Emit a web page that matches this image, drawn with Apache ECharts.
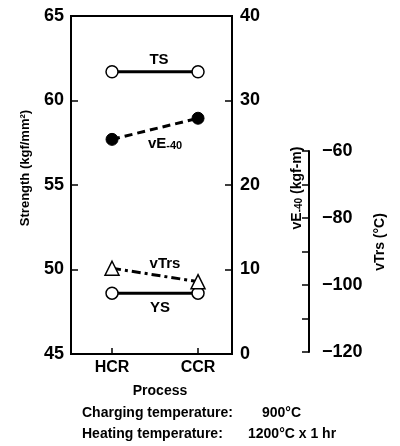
<!DOCTYPE html>
<html>
<head>
<meta charset="utf-8">
<script src="https://cdn.jsdelivr.net/npm/echarts@6/dist/echarts.min.js"></script>
<style>html,body{margin:0;padding:0;background:#fff;}#c{width:400px;height:446px;}</style>
</head>
<body>
<div id="c"></div>
<script>
const processes = ['HCR', 'CCR'];
const tsValues = [61.7, 61.7];
const ysValues = [48.6, 48.6];
const vE40Values = [25.4, 27.9];
const vTrsValues = [-95, -99];
const strengthRange = [45, 65];
const vE40Range = [0, 40];
const vTrsRange = [-120, -60];

const FONT = '"Liberation Sans", Arial, sans-serif';
const chart = echarts.init(document.getElementById('c'), null, {renderer: 'canvas'});
const pts = vals => processes.map((p, i) => [i, vals[i]]);
const xMin = -0.477, xMax = 1.395;
const black = '#000';

const option = {
  animation: false,
  backgroundColor: '#fff',
  grid: [
    {left: 71, right: 168, top: 16, bottom: 92, show: true, borderColor: black, borderWidth: 2, backgroundColor: 'transparent'},
    {left: 71, right: 168, top: 151, bottom: 94}
  ],
  xAxis: [
    {
      gridIndex: 0, type: 'value', min: xMin, max: xMax,
      axisLine: {show: true, onZero: false, lineStyle: {color: black, width: 2}},
      axisTick: {show: true, inside: true, length: 6, customValues: [0, 1], lineStyle: {color: black, width: 1.5}},
      axisLabel: {customValues: [0, 1], formatter: v => processes[Math.round(v)] || '', color: black, fontFamily: FONT, fontWeight: 'bold', fontSize: 16, margin: 6},
      splitLine: {show: false}
    },
    {gridIndex: 1, type: 'value', min: xMin, max: xMax, show: false}
  ],
  yAxis: [
    {
      gridIndex: 0, type: 'value', position: 'left', min: strengthRange[0], max: strengthRange[1], interval: 5,
      axisLine: {show: true, onZero: false, lineStyle: {color: black, width: 2}},
      axisTick: {show: true, inside: true, length: 7, lineStyle: {color: black, width: 1.5}},
      axisLabel: {color: black, fontFamily: FONT, fontWeight: 'bold', fontSize: 18, margin: 7},
      splitLine: {show: false}
    },
    {
      gridIndex: 0, type: 'value', position: 'right', min: vE40Range[0], max: vE40Range[1], interval: 10,
      axisLine: {show: true, onZero: false, lineStyle: {color: black, width: 2}},
      axisTick: {show: true, inside: true, length: 7, lineStyle: {color: black, width: 1.5}},
      axisLabel: {color: black, fontFamily: FONT, fontWeight: 'bold', fontSize: 18, margin: 8},
      splitLine: {show: false}
    },
    {
      gridIndex: 1, type: 'value', position: 'right', offset: 77, min: vTrsRange[0], max: vTrsRange[1], interval: 20,
      axisLine: {show: true, onZero: false, lineStyle: {color: black, width: 2}},
      axisTick: {show: true, inside: true, length: 7, lineStyle: {color: black, width: 1.5}},
      minorTick: {show: true, splitNumber: 2, length: 7, lineStyle: {color: black, width: 1.5}},
      axisLabel: {color: black, fontFamily: FONT, fontWeight: 'bold', fontSize: 18, margin: 13,
        formatter: v => (v < 0 ? '\u2212' : '') + Math.abs(v)},
      splitLine: {show: false}
    }
  ],
  series: [
    {
      name: 'TS', type: 'line', xAxisIndex: 0, yAxisIndex: 0, data: pts(tsValues),
      symbol: 'circle', symbolSize: 12,
      lineStyle: {color: black, width: 3},
      itemStyle: {color: '#fff', borderColor: black, borderWidth: 1.5}
    },
    {
      name: 'vE-40', type: 'line', xAxisIndex: 0, yAxisIndex: 1, data: pts(vE40Values),
      symbol: 'circle', symbolSize: 12,
      lineStyle: {color: black, width: 3, type: [8, 5]},
      itemStyle: {color: black, borderColor: black, borderWidth: 1}
    },
    {
      name: 'YS', type: 'line', xAxisIndex: 0, yAxisIndex: 0, data: pts(ysValues),
      symbol: 'circle', symbolSize: 12,
      lineStyle: {color: black, width: 3},
      itemStyle: {color: '#fff', borderColor: black, borderWidth: 1.5}
    },
    {
      name: 'vTrs', type: 'line', xAxisIndex: 1, yAxisIndex: 2, data: pts(vTrsValues),
      symbol: 'triangle', symbolSize: 14,
      lineStyle: {color: black, width: 3, type: [9, 4, 3, 4]},
      itemStyle: {color: '#fff', borderColor: black, borderWidth: 1.5}
    }
  ],
  graphic: [
    {type: 'text', x: 159, y: 60, style: {text: 'TS', font: 'bold 15px ' + FONT, fill: black, textAlign: 'center', textVerticalAlign: 'middle'}},
    {type: 'text', x: 165, y: 144, style: {text: '{a|vE}{b|-40}', fill: black, textAlign: 'center', textVerticalAlign: 'middle',
      rich: {a: {font: 'bold 15px ' + FONT, fill: black}, b: {font: 'bold 11px ' + FONT, fill: black, verticalAlign: 'bottom'}}}},
    {type: 'text', x: 165, y: 264, style: {text: 'vTrs', font: 'bold 15px ' + FONT, fill: black, textAlign: 'center', textVerticalAlign: 'middle'}},
    {type: 'text', x: 160, y: 308, style: {text: 'YS', font: 'bold 15px ' + FONT, fill: black, textAlign: 'center', textVerticalAlign: 'middle'}},
    {type: 'text', x: 25, y: 168, rotation: Math.PI / 2, style: {text: 'Strength (kgf/mm\u00B2)', font: 'bold 13px ' + FONT, fill: black, textAlign: 'center', textVerticalAlign: 'middle'}},
    {type: 'text', x: 297, y: 188, rotation: Math.PI / 2, style: {text: '{a|vE}{b|-40}{a| (kgf-m)}', fill: black, textAlign: 'center', textVerticalAlign: 'middle',
      rich: {a: {font: 'bold 14px ' + FONT, fill: black}, b: {font: 'bold 10px ' + FONT, fill: black, verticalAlign: 'bottom'}}}},
    {type: 'text', x: 380, y: 242, rotation: Math.PI / 2, style: {text: 'vTrs (\u00B0C)', font: 'bold 14px ' + FONT, fill: black, textAlign: 'center', textVerticalAlign: 'middle'}},
    {type: 'text', x: 160, y: 391, style: {text: 'Process', font: 'bold 14px ' + FONT, fill: black, textAlign: 'center', textVerticalAlign: 'middle'}},
    {type: 'text', x: 82, y: 413, style: {text: 'Charging temperature:', font: 'bold 14px ' + FONT, fill: black, textAlign: 'left', textVerticalAlign: 'middle'}},
    {type: 'text', x: 262, y: 413, style: {text: '900\u00B0C', font: 'bold 14px ' + FONT, fill: black, textAlign: 'left', textVerticalAlign: 'middle'}},
    {type: 'text', x: 82, y: 434, style: {text: 'Heating temperature:', font: 'bold 14px ' + FONT, fill: black, textAlign: 'left', textVerticalAlign: 'middle'}},
    {type: 'text', x: 248, y: 434, style: {text: '1200\u00B0C x 1 hr', font: 'bold 14px ' + FONT, fill: black, textAlign: 'left', textVerticalAlign: 'middle'}}
  ]
};
chart.setOption(option);
</script>
</body>
</html>
